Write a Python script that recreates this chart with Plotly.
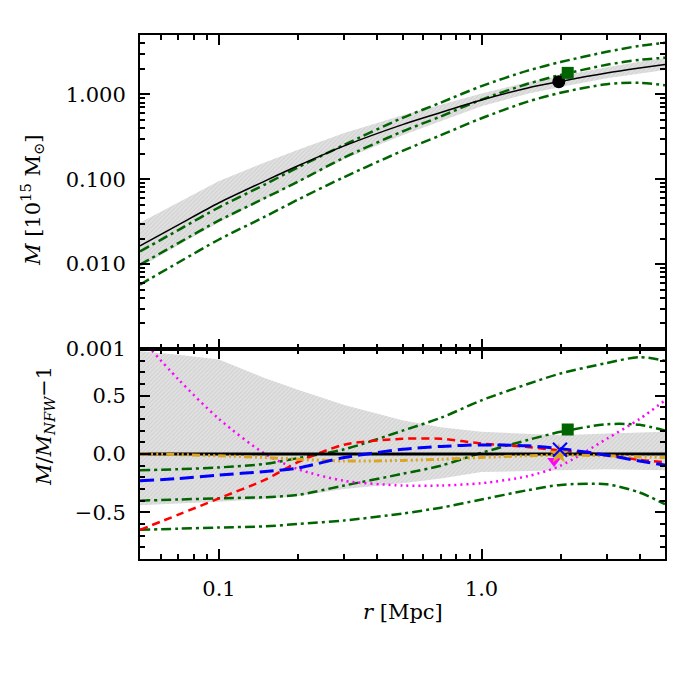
import plotly.graph_objects as go

# ---------------- data ----------------
r = [0.05, 0.07, 0.1, 0.15, 0.2, 0.3, 0.5, 0.7, 1.0, 1.5, 2.0, 3.0, 4.0, 5.0]

# top panel: enclosed mass [1e15 Msun]
m_nfw = [0.0164, 0.029, 0.0528, 0.0957, 0.144, 0.247, 0.44, 0.611, 0.857, 1.19, 1.42, 1.78, 2.04, 2.25]
m_band_hi = [0.0308, 0.0537, 0.0956, 0.158, 0.223, 0.351, 0.568, 0.752, 1.02, 1.39, 1.65, 2.09, 2.42, 2.68]
m_band_lo = [0.0092, 0.0167, 0.0312, 0.0589, 0.0922, 0.173, 0.33, 0.483, 0.724, 1.017, 1.221, 1.549, 1.765, 1.935]
m_green_a = [0.0141, 0.0252, 0.0467, 0.0871, 0.138, 0.254, 0.528, 0.80, 1.25, 1.90, 2.40, 3.17, 3.73, 4.05]
m_green_b = [0.00984, 0.0177, 0.0327, 0.0603, 0.0936, 0.180, 0.365, 0.55, 0.866, 1.33, 1.69, 2.23, 2.55, 2.70]
m_green_c = [0.00574, 0.01044, 0.0195, 0.0364, 0.0576, 0.106, 0.216, 0.33, 0.523, 0.821, 1.044, 1.317, 1.367, 1.28]

# bottom panel: M / M_NFW - 1
d_nfw = [0.0] * 14
d_band_hi = [0.88, 0.85, 0.81, 0.65, 0.55, 0.42, 0.29, 0.23, 0.19, 0.17, 0.16, 0.175, 0.185, 0.19]
d_band_lo = [-0.44, -0.425, -0.41, -0.385, -0.36, -0.30, -0.25, -0.21, -0.155, -0.145, -0.14, -0.13, -0.135, -0.14]
d_green_a = [-0.14, -0.13, -0.115, -0.085, -0.035, 0.04, 0.20, 0.31, 0.46, 0.60, 0.69, 0.78, 0.83, 0.80]
d_green_b = [-0.40, -0.39, -0.38, -0.37, -0.35, -0.27, -0.17, -0.10, 0.01, 0.12, 0.19, 0.255, 0.25, 0.20]
d_green_c = [-0.65, -0.64, -0.63, -0.62, -0.60, -0.57, -0.51, -0.46, -0.39, -0.31, -0.265, -0.26, -0.33, -0.43]
d_red = [-0.65, -0.52, -0.38, -0.22, -0.07, 0.08, 0.13, 0.13, 0.09, 0.06, 0.03, -0.01, -0.05, -0.07]
d_blue = [-0.23, -0.21, -0.18, -0.15, -0.12, -0.03, 0.04, 0.065, 0.078, 0.07, 0.045, -0.01, -0.06, -0.095]
d_magenta = [1.0, 0.64, 0.30, 0.0, -0.13, -0.23, -0.27, -0.27, -0.25, -0.19, -0.10, 0.13, 0.30, 0.46]
d_orange = [0.0, -0.005, -0.015, -0.03, -0.045, -0.06, -0.055, -0.045, -0.03, -0.015, -0.01, -0.015, -0.025, -0.03]

# single-point measurements
pt_black_r, pt_black_m = [1.97], [1.41]
pt_sq_r, pt_sq_m, pt_sq_d = [2.13], [1.79], [0.21]
pt_x_r, pt_x_d = [1.99], [0.037]
pt_star_r, pt_star_d = [1.97], [0.0]
pt_tri_r, pt_tri_d = [1.89], [-0.06]

x_major = [0.1, 1.0]
x_major_text = ["0.1", "1.0"]
x_minor = [0.06, 0.07, 0.08, 0.09, 0.2, 0.3, 0.4, 0.5, 0.6, 0.7, 0.8, 0.9, 2, 3, 4, 5]
ytop_major = [0.001, 0.01, 0.1, 1.0]
ytop_major_text = ["0.001", "0.010", "0.100", "1.000"]
ytop_minor = [k * d for d in (0.001, 0.01, 0.1) for k in range(2, 10)] + [2, 3, 4, 5]
ybot_major = [-0.5, 0.0, 0.5]
ybot_major_text = ["\u22120.5", "0.0", "0.5"]
ybot_minor = [-0.8, -0.7, -0.6, -0.4, -0.3, -0.2, -0.1, 0.1, 0.2, 0.3, 0.4, 0.6, 0.7, 0.8]

# ---------------- styles ----------------
GREEN = "#006400"
BAND_FILL = "rgb(216,216,216)"
GDASH = "10px,4px,3px,4px"
FONT = "DejaVu Serif"

fig = go.Figure()

def band(xs, hi, lo, xa, ya):
    fig.add_trace(go.Scatter(
        x=xs + xs[::-1], y=hi + lo[::-1], xaxis=xa, yaxis=ya,
        mode="lines", line=dict(width=0, color=BAND_FILL), fill="toself",
        fillcolor=BAND_FILL,
        fillpattern=dict(shape="/", size=3, solidity=0.35,
                         fgcolor="rgb(190,190,190)", bgcolor="rgb(225,225,225)"),
        hoverinfo="skip", showlegend=False))

def line(xs, ys, xa, ya, color, width, dash="solid"):
    fig.add_trace(go.Scatter(
        x=xs, y=ys, xaxis=xa, yaxis=ya, mode="lines",
        line=dict(color=color, width=width, dash=dash, shape="spline", smoothing=0.8),
        showlegend=False, hoverinfo="skip"))

def marker(xs, ys, xa, ya, symbol, color, size, lw=0, lc=None):
    fig.add_trace(go.Scatter(
        x=xs, y=ys, xaxis=xa, yaxis=ya, mode="markers",
        marker=dict(symbol=symbol, color=color, size=size,
                    line=dict(width=lw, color=lc or color)),
        showlegend=False, hoverinfo="skip"))

# top panel
band(r, m_band_hi, m_band_lo, "x2", "y")
line(r, m_green_a, "x2", "y", GREEN, 2.5, GDASH)
line(r, m_green_b, "x2", "y", GREEN, 2.5, GDASH)
line(r, m_green_c, "x2", "y", GREEN, 2.5, GDASH)
line(r, m_nfw, "x2", "y", "black", 1.5)
marker(pt_black_r, pt_black_m, "x2", "y", "circle", "black", 13)
marker(pt_sq_r, pt_sq_m, "x2", "y", "square", GREEN, 12)

# bottom panel
band(r, d_band_hi, d_band_lo, "x", "y2")
line(r, d_green_a, "x", "y2", GREEN, 2.5, GDASH)
line(r, d_green_b, "x", "y2", GREEN, 2.5, GDASH)
line(r, d_green_c, "x", "y2", GREEN, 2.5, GDASH)
line(r, d_magenta, "x", "y2", "#FF00FF", 2.5, "2px,4px")
line(r, d_red, "x", "y2", "#FF0000", 2.5, "8px,5px")
line(r, d_nfw, "x", "y2", "black", 3)
line(r, d_orange, "x", "y2", "#DAA520", 3, "8px,3px,2px,3px,2px,3px,2px,3px")
line(r, d_blue, "x", "y2", "#0000FF", 3, "14px,6px")
marker(pt_sq_r, pt_sq_d, "x", "y2", "square", GREEN, 12)
marker(pt_tri_r, pt_tri_d, "x", "y2", "triangle-down", "#FF00FF", 12)
marker(pt_star_r, pt_star_d, "x", "y2", "star", "#DAA520", 15)
marker(pt_x_r, pt_x_d, "x", "y2", "x-thin", "#0000FF", 14, 2, "#0000FF")

# page has an 8px body margin: plot area target 140..665 x 35..559 on screen
ML, MR, MT, MB = 132, 43, 27, 149
PH = 700 - MT - MB
SPLIT = 210.0 / PH

axis_common = dict(
    showline=True, linecolor="black", linewidth=2, mirror="allticks",
    ticks="inside", ticklen=10, tickwidth=1.5, tickcolor="black",
    showgrid=False, zeroline=False,
    tickfont=dict(family=FONT, size=21, color="black"),
)

xr = [-1.30103, 0.69897]
fig.update_layout(
    width=700, height=700, autosize=False,
    margin=dict(l=ML, r=MR, t=MT, b=MB),
    paper_bgcolor="white", plot_bgcolor="white",
    xaxis=dict(type="log", range=xr, anchor="y2", domain=[0, 1],
               tickmode="array", tickvals=x_major, ticktext=x_major_text,
               ticklabelstandoff=10,
               minor=dict(tickmode="array", tickvals=x_minor, ticks="inside",
                          ticklen=5, tickwidth=1.5, tickcolor="black"),
               **axis_common),
    xaxis2=dict(type="log", range=xr, anchor="y", matches="x", domain=[0, 1],
                tickmode="array", tickvals=x_major, ticktext=x_major_text,
                showticklabels=False,
                minor=dict(tickmode="array", tickvals=x_minor, ticks="inside",
                           ticklen=5, tickwidth=1.5, tickcolor="black"),
                **axis_common),
    yaxis=dict(type="log", range=[-3, 0.699], domain=[SPLIT, 1], anchor="x2",
               tickmode="array", tickvals=ytop_major, ticktext=ytop_major_text,
               ticklabelstandoff=8,
               minor=dict(tickmode="array", tickvals=ytop_minor, ticks="inside",
                          ticklen=5, tickwidth=1.5, tickcolor="black"),
               **axis_common),
    yaxis2=dict(range=[-0.9, 0.9], domain=[0, SPLIT], anchor="x",
                tickmode="array", tickvals=ybot_major, ticktext=ybot_major_text,
                ticklabelstandoff=8,
                minor=dict(tickmode="array", tickvals=ybot_minor, ticks="inside",
                           ticklen=5, tickwidth=1.5, tickcolor="black"),
                **axis_common),
)

def px_x(px):  # screen x -> paper fraction
    return (px - 8 - ML) / (700 - ML - MR)

def px_y(py):  # screen y -> paper fraction
    return (700 - MB - (py - 8)) / PH

title_font = dict(family=FONT, size=21, color="black")
fig.add_annotation(text="<i>M</i> [10<sup>15</sup> M<sub>\u2299</sub>]",
                   xref="paper", yref="paper", x=px_x(32), y=px_y(200),
                   xanchor="center", yanchor="middle", textangle=-90,
                   showarrow=False, font=title_font)
fig.add_annotation(text="<i>M</i>/<i>M</i><sub><i>NFW</i></sub>\u22121",
                   xref="paper", yref="paper", x=px_x(45), y=px_y(426),
                   xanchor="center", yanchor="middle", textangle=-90,
                   showarrow=False, font=title_font)
fig.add_annotation(text="<i>r</i> [Mpc]",
                   xref="paper", yref="paper", x=px_x(403), y=px_y(612),
                   xanchor="center", yanchor="middle",
                   showarrow=False, font=title_font)

fig.write_html("out.html")
